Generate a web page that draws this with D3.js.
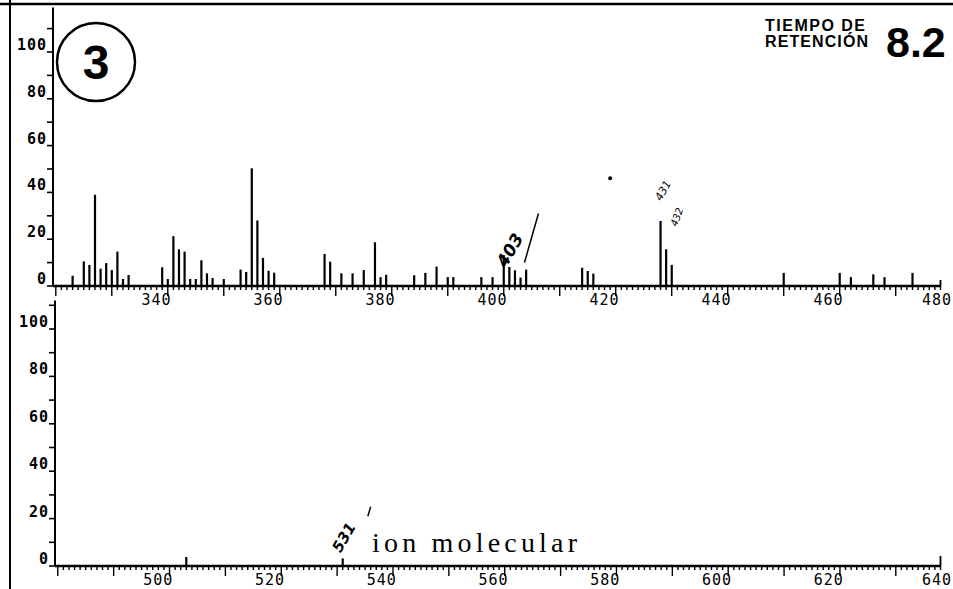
<!DOCTYPE html>
<html>
<head>
<meta charset="utf-8">
<script src="https://cdn.jsdelivr.net/npm/d3@7"></script>
<style>
  body { margin: 0; background: #fff; }
  svg { display: block; }
</style>
</head>
<body>
<div id="chart"></div>
<script>
// Mass spectrum, retention time 8.2 — m/z and relative intensity (%).
const topMz = [325, 327, 328, 329, 330, 331, 332, 333, 334, 335,
  341, 342, 343, 344, 345, 346, 347, 348, 349, 350, 352,
  355, 356, 357, 358, 359, 360, 361,
  370, 371, 373, 375, 377, 379, 380, 381, 386, 388, 390, 392, 393,
  398, 400, 402, 403, 404, 405, 406, 416, 417, 418,
  430, 431, 432, 452, 462, 464, 468, 470, 475];
const topIntensity = [4.4, 10.5, 9, 39, 7.4, 9.8, 6.8, 14.7, 3, 4.7,
  8, 3, 21.3, 15.7, 14.7, 3, 3, 11, 5.4, 3.4, 3,
  7, 6, 50.3, 28, 12, 6.5, 5.7,
  13.7, 10.4, 5.4, 5.4, 6.8, 18.7, 3.8, 4.8, 4.6, 5.6, 8.3, 3.8, 3.8,
  3.8, 3.8, 13.2, 8.1, 6.7, 3.6, 7, 7.8, 6.4, 5.3,
  27.8, 15.7, 9, 5.6, 5.6, 3.8, 5, 3.8, 5.6];
const bottomMz = [505, 533];
const bottomIntensity = [3.8, 3.2];

const topTickLabels = [340, 360, 380, 400, 420, 440, 460, 480];
const bottomTickLabels = [500, 520, 540, 560, 580, 600, 620, 640];
const intensityTickLabels = [0, 20, 40, 60, 80, 100];
const intensityTicks = d3.range(0, 111, 10);

const width = 953;
const height = 589;
const MONO = "'DejaVu Sans Mono', 'Liberation Mono', monospace";

const svg = d3.select("#chart")
  .append("svg")
  .attr("width", width)
  .attr("height", height);

// page frame: ruled line across the top and down the left edge
svg.append("line")
  .attr("x1", 0).attr("x2", width).attr("y1", 4).attr("y2", 4)
  .attr("stroke", "#000").attr("stroke-width", 2.5);
svg.append("line")
  .attr("x1", 10).attr("x2", 10).attr("y1", 0).attr("y2", height)
  .attr("stroke", "#000").attr("stroke-width", 2);

/**
 * Draws one strip of the spectrum: intensity axis, m/z axis and the peak sticks.
 */
function drawPanel(svg, cfg) {
  const { x, y, mz, intensity, tickLabels, axisTop, endTick } = cfg;
  const g = svg.append("g");
  const [x0, x1] = x.range();
  const base = y(0);

  // intensity axis
  g.append("line")
    .attr("x1", x0).attr("x2", x0)
    .attr("y1", y(axisTop)).attr("y2", base)
    .attr("stroke", "#000").attr("stroke-width", 2);
  g.selectAll(".ytick")
    .data(intensityTicks)
    .join("line")
    .attr("x1", x0 - 6).attr("x2", x0)
    .attr("y1", d => y(d)).attr("y2", d => y(d))
    .attr("stroke", "#000").attr("stroke-width", 1.6);
  g.selectAll(".ylabel")
    .data(intensityTickLabels)
    .join("text")
    .attr("x", x0 - 6)
    .attr("y", d => y(d) - 2)
    .attr("text-anchor", "end")
    .attr("font-family", MONO)
    .attr("font-size", 15)
    .attr("font-weight", "bold")
    .attr("letter-spacing", 1)
    .text(d => d);

  // m/z axis with a tick per unit, longer ones every ten
  g.append("line")
    .attr("x1", x0).attr("x2", x1)
    .attr("y1", base).attr("y2", base)
    .attr("stroke", "#000").attr("stroke-width", 2.5);
  const [m0, m1] = x.domain();
  g.selectAll(".xtick")
    .data(d3.range(Math.ceil(m0), Math.floor(m1) + 1))
    .join("line")
    .attr("x1", d => x(d)).attr("x2", d => x(d))
    .attr("y1", base)
    .attr("y2", d => base + ((d % 10 === 2) ? 10 : 4))
    .attr("stroke", "#000").attr("stroke-width", 1.4);
  g.append("line")
    .attr("x1", x1).attr("x2", x1)
    .attr("y1", base).attr("y2", base - endTick)
    .attr("stroke", "#000").attr("stroke-width", 1.8);
  // the last label sits against the page edge, as on the printout
  g.selectAll(".xlabel")
    .data(tickLabels)
    .join("text")
    .attr("x", d => Math.min(x(d), width - 16))
    .attr("y", base + 19)
    .attr("text-anchor", "middle")
    .attr("font-family", MONO)
    .attr("font-size", 15)
    .attr("letter-spacing", 1)
    .text(d => d);

  // peaks
  g.selectAll(".peak")
    .data(mz.map((m, i) => ({ m, v: intensity[i] })))
    .join("line")
    .attr("x1", d => x(d.m)).attr("x2", d => x(d.m))
    .attr("y1", base).attr("y2", d => y(d.v))
    .attr("stroke", "#000").attr("stroke-width", 2.2);
  return g;
}

const xTop = d3.scaleLinear().domain([321.5, 480]).range([53, 940.5]);
const yTop = d3.scaleLinear().domain([0, 100]).range([286, 52]);
const xBottom = d3.scaleLinear().domain([481.5, 640]).range([55, 940.5]);
const yBottom = d3.scaleLinear().domain([0, 100]).range([566, 329]);

drawPanel(svg, { x: xTop, y: yTop, mz: topMz, intensity: topIntensity,
  tickLabels: topTickLabels, axisTop: 119, endTick: 6 });
drawPanel(svg, { x: xBottom, y: yBottom, mz: bottomMz, intensity: bottomIntensity,
  tickLabels: bottomTickLabels, axisTop: 112, endTick: 10 });

// circled sample number
svg.append("circle")
  .attr("cx", 96).attr("cy", 62).attr("r", 39)
  .attr("fill", "none").attr("stroke", "#000").attr("stroke-width", 2.5);
svg.append("text")
  .attr("x", 96).attr("y", 79)
  .attr("text-anchor", "middle")
  .attr("font-family", "'Liberation Sans', Arial, sans-serif")
  .attr("font-weight", "bold")
  .attr("font-size", 48)
  .text("3");

// retention time block
const rt = svg.append("g")
  .attr("font-family", "'Liberation Sans', Arial, sans-serif")
  .attr("font-weight", "bold");
rt.append("text").attr("x", 765).attr("y", 31)
  .attr("font-size", 16).attr("textLength", 100).text("TIEMPO DE");
rt.append("text").attr("x", 765).attr("y", 47)
  .attr("font-size", 16).attr("textLength", 103).text("RETENCIÓN");
rt.append("text").attr("x", 886).attr("y", 57)
  .attr("font-size", 43).text("8.2");

// handwritten notes on the printout
const notes = svg.append("g")
  .attr("font-family", "'DejaVu Sans', sans-serif")
  .attr("font-weight", "bold")
  .attr("font-style", "italic");
notes.append("text")
  .attr("transform", `translate(${xTop(404)},${yTop(14)}) rotate(-60)`)
  .attr("text-anchor", "middle").attr("font-size", 17).text("403");
notes.append("line")
  .attr("x1", xTop(405.7)).attr("y1", yTop(10))
  .attr("x2", xTop(408.2)).attr("y2", yTop(31))
  .attr("stroke", "#000").attr("stroke-width", 1.5);
notes.append("text")
  .attr("transform", `translate(${xTop(431)},${yTop(40)}) rotate(-60)`)
  .attr("text-anchor", "middle").attr("font-size", 11).attr("font-weight", "normal").text("431");
notes.append("text")
  .attr("transform", `translate(${xTop(433.5)},${yTop(29)}) rotate(-70)`)
  .attr("text-anchor", "middle").attr("font-size", 10).attr("font-weight", "normal").text("432");
notes.append("circle")
  .attr("cx", xTop(421)).attr("cy", yTop(46)).attr("r", 2).attr("fill", "#000");
notes.append("text")
  .attr("transform", `translate(${xBottom(534)},${yBottom(11)}) rotate(-60)`)
  .attr("text-anchor", "middle").attr("font-size", 15).text("531");
notes.append("line")
  .attr("x1", xBottom(537.5)).attr("y1", yBottom(21))
  .attr("x2", xBottom(538)).attr("y2", yBottom(25))
  .attr("stroke", "#000").attr("stroke-width", 1.5);

svg.append("text")
  .attr("x", 372).attr("y", 552)
  .attr("font-family", "'Liberation Serif', 'DejaVu Serif', serif")
  .attr("font-size", 28)
  .attr("textLength", 205)
  .text("ion molecular");
</script>
</body>
</html>
